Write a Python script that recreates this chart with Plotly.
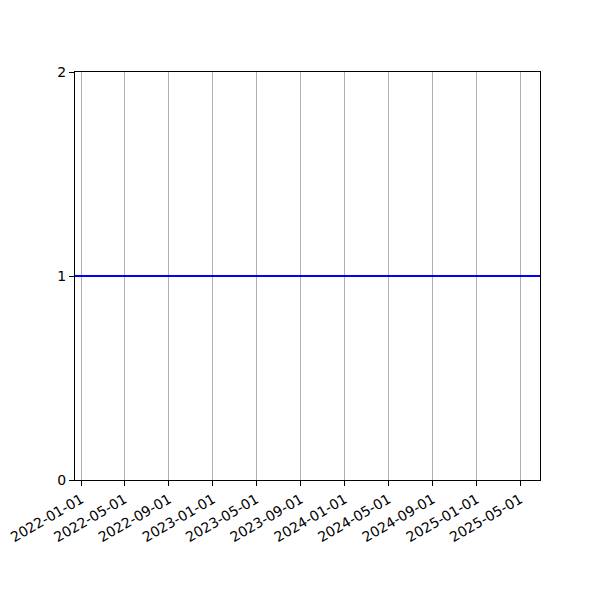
import plotly.graph_objects as go

# series: constant value over time
dates = ["2021-12-15", "2025-06-25"]
values = [1, 1]

# tick labels
x_ticks = ["2022-01-01", "2022-05-01", "2022-09-01", "2023-01-01", "2023-05-01",
           "2023-09-01", "2024-01-01", "2024-05-01", "2024-09-01", "2025-01-01",
           "2025-05-01"]
y_ticks = [0, 1, 2]

fig = go.Figure()
fig.add_trace(go.Scatter(x=dates, y=values, mode="lines",
                         line=dict(color="#0000ff", width=2), showlegend=False))

# page body adds an 8px offset, so margins are shifted by that
fig.update_layout(
    width=600, height=600,
    margin=dict(l=67, r=68, t=64, b=128),
    plot_bgcolor="white", paper_bgcolor="white",
    font=dict(family="DejaVu Sans", size=14, color="black"),
)
fig.update_xaxes(
    type="date", range=["2021-12-15", "2025-06-25"],
    tickvals=x_ticks, ticktext=x_ticks, tickangle=-30,
    showgrid=True, gridcolor="#b0b0b0", gridwidth=1,
    showline=True, linecolor="black", linewidth=1, mirror=True,
    ticks="outside", ticklen=5, tickcolor="black", zeroline=False,
    automargin=False, ticklabeloverflow="allow",
)
fig.update_yaxes(
    range=[0, 2], tickvals=y_ticks,
    showgrid=False, zeroline=False,
    showline=True, linecolor="black", linewidth=1, mirror=True,
    ticks="outside", ticklen=5, tickcolor="black",
    automargin=False,
)

fig.write_html("out.html")
